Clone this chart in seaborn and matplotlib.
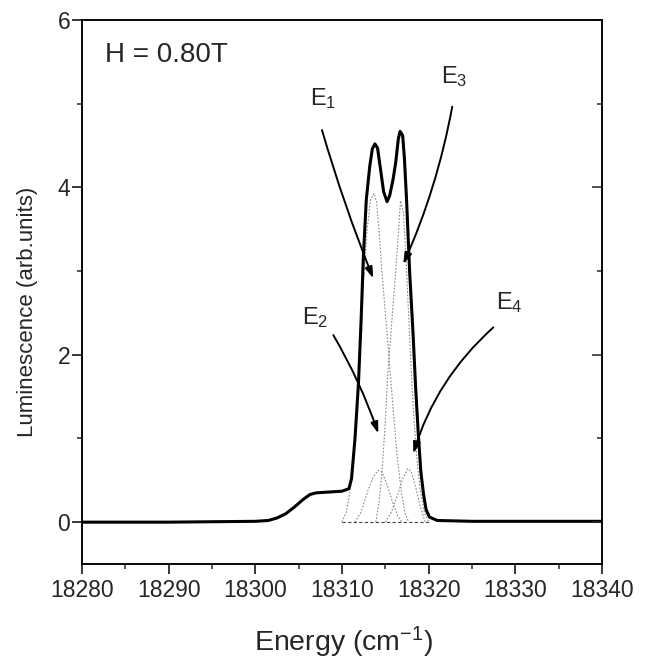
import numpy as np
import pandas as pd
import matplotlib
matplotlib.use("Agg")
import matplotlib.pyplot as plt
import seaborn as sns

energia = [18280, 18285, 18290, 18295, 18300, 18301.5, 18302.5, 18303.5, 18304.5,
           18305.5, 18306.3, 18307, 18308.5, 18310, 18310.8, 18311.1, 18311.5,
           18311.9, 18312.2, 18312.45, 18312.8, 18313.2, 18313.5, 18313.8, 18314.1,
           18314.4, 18314.8, 18315.2, 18315.5, 18315.9, 18316.2, 18316.5, 18316.7,
           18317.0, 18317.2, 18317.45, 18317.8, 18318.2, 18318.5, 18318.8, 18319.1,
           18319.4, 18319.7, 18320.1, 18321, 18325, 18330, 18340]
lumin = [0.0, 0.0, 0.0, 0.005, 0.01, 0.02, 0.05, 0.1, 0.18,
         0.27, 0.33, 0.35, 0.36, 0.37, 0.40, 0.52, 1.0,
         1.66, 2.4, 3.13, 3.85, 4.25, 4.46, 4.52, 4.47,
         4.25, 3.95, 3.83, 3.9, 4.1, 4.3, 4.58, 4.67,
         4.62, 4.35, 3.85, 3.0, 2.25, 1.6, 1.06, 0.6,
         0.34, 0.15, 0.06, 0.02, 0.01, 0.01, 0.01]

# Componentes do ajuste
e1_x = [18310.0, 18310.5, 18310.9, 18311.3, 18311.7, 18312.1, 18312.5, 18312.9, 18313.3,
        18313.7, 18314.0, 18314.3, 18314.6, 18315.0, 18315.4, 18315.9, 18316.4, 18316.9,
        18317.3, 18317.7]
e1_y = [0.0, 0.12, 0.35, 0.7, 1.3, 2.1, 2.9, 3.5, 3.85,
        3.93, 3.82, 3.45, 3.0, 2.5, 2.0, 1.35, 0.75, 0.32,
        0.1, 0.0]
e3_x = [18313.9, 18314.3, 18314.6, 18315.0, 18315.3, 18315.6, 18315.9, 18316.2, 18316.5,
        18316.75, 18317.1, 18317.45, 18317.8, 18318.2, 18318.6, 18319.0, 18319.5, 18320.0]
e3_y = [0.0, 0.25, 0.58, 1.2, 1.8, 2.2, 2.6, 3.01, 3.45,
        3.84, 3.7, 3.01, 2.21, 1.4, 0.8, 0.4, 0.12, 0.0]
e2_x = [18311.5, 18312.2, 18313.0, 18313.6, 18314.2, 18314.6, 18315.2, 18315.8, 18316.4, 18316.9]
e2_y = [0.0, 0.12, 0.38, 0.54, 0.62, 0.6, 0.45, 0.25, 0.08, 0.0]
e4_x = [18315.0, 18315.7, 18316.4, 18317.0, 18317.6, 18318.0, 18318.5, 18319.0, 18319.6]
e4_y = [0.0, 0.12, 0.32, 0.52, 0.64, 0.6, 0.42, 0.2, 0.0]
base_x = [18310, 18320]
base_y = [0, 0]

# Rótulos e setas
rotulos = ["E$_{1}$", "E$_{2}$", "E$_{3}$", "E$_{4}$"]
pos_texto = [(18307.8, 5.06), (18306.9, 2.44), (18323.0, 5.32), (18329.3, 2.62)]
seta_ini = [(18307.69, 4.685), (18309.0, 2.235), (18322.72, 4.964), (18327.46, 2.327)]
seta_fim = [(18313.61, 2.913), (18314.19, 1.06), (18317.07, 3.084), (18318.23, 0.821)]
curvas = [0.025, -0.05, -0.06, 0.14]

sns.set_style("ticks")
plt.rcParams['font.family'] = ['Liberation Sans', 'DejaVu Sans']
plt.rcParams['mathtext.fontset'] = 'custom'
plt.rcParams['mathtext.rm'] = 'Liberation Sans'
plt.rcParams['mathtext.it'] = 'Liberation Sans:italic'

fig = plt.figure(figsize=(6.52, 6.63), dpi=100)
ax = fig.add_axes([82 / 652, 1 - 564 / 663, 520 / 652, 544 / 663])

# Componentes (pontilhadas)
for cx, cy in [(e1_x, e1_y), (e2_x, e2_y), (e3_x, e3_y), (e4_x, e4_y)]:
    sns.lineplot(x=cx, y=cy, ax=ax, color='#8a8a8a', linewidth=0.8,
                 linestyle=(0, (1.5, 1.5)), sort=False)
sns.lineplot(x=base_x, y=base_y, ax=ax, color='#444444', linewidth=0.8,
             linestyle=(0, (3, 2)))

# Espectro
df = pd.DataFrame({'Energia': energia, 'Lumin': lumin})
sns.lineplot(data=df, x='Energia', y='Lumin', ax=ax, color='black', linewidth=2.2)

for txt, p, a, b, r in zip(rotulos, pos_texto, seta_ini, seta_fim, curvas):
    ax.text(p[0], p[1], txt, fontsize=17, ha='center', va='center')
    ax.annotate("", xy=b, xytext=a,
                arrowprops=dict(arrowstyle="-|>,head_length=0.55,head_width=0.18",
                                connectionstyle="arc3,rad=%s" % r,
                                color='black', lw=1.4, shrinkA=0, shrinkB=0,
                                mutation_scale=12))

ax.text(18282.65, 5.58, "H = 0.80T", fontsize=20, ha='left', va='center')

ax.set_xlim(18280, 18340)
ax.set_ylim(-0.5, 6)
ax.set_xticks([18280, 18290, 18300, 18310, 18320, 18330, 18340])
ax.set_xticks(np.arange(18285, 18340, 10), minor=True)
ax.set_yticks([0, 2, 4, 6])
ax.set_yticks([1, 3, 5], minor=True)
ax.tick_params(axis='both', which='major', direction='out', length=7, width=1.1,
               labelsize=16.5, color='black')
ax.tick_params(axis='both', which='minor', direction='out', length=3.5, width=1.1)
ax.tick_params(axis='x', pad=3.5)
ax.tick_params(axis='y', pad=1.5)

# Eixo direito com ticks para dentro
ax2 = ax.twinx()
ax2.set_ylim(-0.5, 6)
ax2.set_yticks([0, 2, 4, 6])
ax2.set_yticks([1, 3, 5], minor=True)
ax2.tick_params(axis='y', which='major', direction='in', length=7, width=1.1,
                labelright=False)
ax2.tick_params(axis='y', which='minor', direction='in', length=3.5, width=1.1)

for a in (ax, ax2):
    for s in a.spines.values():
        s.set_linewidth(1.1)
        s.set_color('black')

ax.set_xlabel('Energy (cm$^{-1}$)', fontsize=20.5)
ax.set_ylabel('Luminescence (arb.units)', fontsize=16)
ax.xaxis.set_label_coords(0.504, -0.112)
ax.yaxis.set_label_coords(-0.085, 0.463)

fig.savefig('out.png', dpi=100, facecolor='white')
